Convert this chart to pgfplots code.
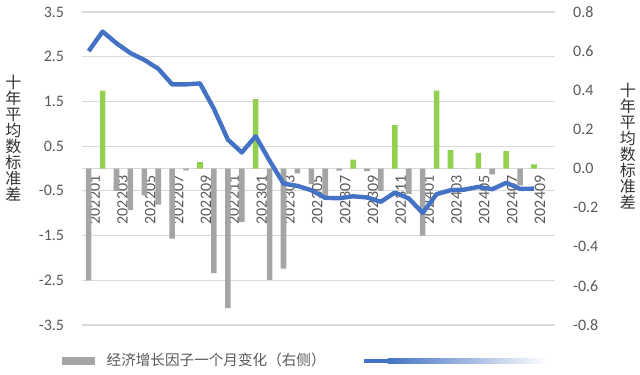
\documentclass[border=0pt]{standalone}
\usepackage{pgfplots}
\pgfplotsset{compat=1.18}
\usepackage{pgfplotstable}
\usepackage{fontspec}
\setmainfont{Carlito}
\newfontfamily\cjk{Noto Sans CJK SC}
\definecolor{tickgray}{HTML}{595959}
\definecolor{bargray}{HTML}{A5A5A5}
\definecolor{bargreen}{HTML}{92D050}
\definecolor{lineblue}{HTML}{4472C4}
\definecolor{gridgray}{HTML}{D9D9D9}

\pgfplotstableread{
x g r
0 -2.50 0
1 0 1.74
2 -0.50 0
3 -0.93 0
4 -0.60 0
5 -0.81 0
6 -1.57 0
7 -0.04 0
8 0 0.14
9 -2.34 0
10 -3.12 0
11 -1.20 0
12 0 1.55
13 -2.49 0
14 -2.24 0
15 -0.11 0
16 -0.35 0
17 -0.62 0
18 -0.05 0
19 0 0.20
20 -0.06 0
21 -0.50 0
22 0 0.97
23 -0.57 0
24 -1.50 0
25 0 1.74
26 0 0.41
27 0 0
28 0 0.35
29 -0.13 0
30 0 0.39
31 -0.38 0
32 0 0.09
}\bars

\pgfplotstableread{
x v
0 0.600
1 0.700
2 0.640
3 0.590
4 0.555
5 0.510
6 0.430
7 0.430
8 0.435
9 0.305
10 0.148
11 0.082
12 0.165
13 0.040
14 -0.077
15 -0.089
16 -0.111
17 -0.150
18 -0.152
19 -0.142
20 -0.148
21 -0.170
22 -0.123
23 -0.153
24 -0.227
25 -0.131
26 -0.111
27 -0.108
28 -0.094
29 -0.106
30 -0.073
31 -0.104
32 -0.103
}\linedata

\begin{document}
\begin{tikzpicture}
\path[use as bounding box] (0,0) rectangle (320pt,187pt);
\begin{axis}[
  at={(40.85pt,24.5pt)}, anchor=south west,
  scale only axis, width=236.6pt, height=156.5pt,
  xmin=-0.5, xmax=33.5, ymin=-3.5, ymax=3.5,
  axis x line*=middle, axis y line*=left,
  x axis line style={draw=gridgray, line width=0.6pt},
  y axis line style={draw=none},
  major tick length=0pt,
  xtick={0,2,...,32},
  xticklabels={202201,202203,202205,202207,202209,202211,202301,202303,202305,202307,202309,202311,202401,202403,202405,202407,202409},
  xticklabel style={rotate=90, anchor=east, yshift=-3pt, font=\fontsize{8}{9}\selectfont, text=tickgray},
  ytick={-3.5,-2.5,-1.5,-0.5,0.5,1.5,2.5,3.5},
  /pgf/number format/assume math mode=true,
  yticklabel style={anchor=east, xshift=-5.3pt, font=\fontsize{8}{9}\selectfont, text=tickgray,
    /pgf/number format/fixed, /pgf/number format/fixed zerofill, /pgf/number format/precision=1},
  ymajorgrids, major grid style={draw=gridgray, line width=0.6pt},
  every axis y label/.style={at={(rel axis cs:-0.1445,0.596)}, anchor=center, align=center,
    font=\cjk\fontsize{8}{8}\selectfont, text=black!80},
  ylabel={十\\年\\平\\均\\数\\标\\准\\差},
]
\addplot[ybar, bar width=2.8pt, bar shift=0pt, fill=bargray, draw=none, forget plot] table[x=x,y=g]{\bars};
\addplot[ybar, bar width=2.8pt, bar shift=0pt, fill=bargreen, draw=none, forget plot] table[x=x,y=r]{\bars};
\end{axis}
\begin{axis}[
  at={(40.85pt,24.5pt)}, anchor=south west,
  scale only axis, width=236.6pt, height=156.5pt,
  xmin=-0.5, xmax=33.5, ymin=-0.8, ymax=0.8,
  axis x line=none, axis y line*=right,
  y axis line style={draw=none},
  major tick length=0pt,
  ytick={-0.8,-0.6,-0.4,-0.2,0,0.2,0.4,0.6,0.8},
  /pgf/number format/assume math mode=true,
  yticklabel style={anchor=west, xshift=5.6pt, font=\fontsize{8}{9}\selectfont, text=tickgray,
    /pgf/number format/fixed, /pgf/number format/fixed zerofill, /pgf/number format/precision=1},
  every axis y label/.style={at={(rel axis cs:1.1543,0.572)}, anchor=center, align=center,
    font=\cjk\fontsize{8}{8}\selectfont, text=black!80},
  ylabel={十\\年\\平\\均\\数\\标\\准\\差},
  legend columns=2,
  legend style={at={(-0.0423,-0.115)}, anchor=west, draw=none, fill=none,
    inner sep=0pt, outer sep=0pt, font=\cjk\fontsize{7.3}{8}\selectfont, text=tickgray,
    nodes={inner sep=0pt},
    /tikz/every odd column/.append style={column sep=5.8pt},
    /tikz/every even column/.append style={column sep=19pt}},
]
\addplot[lineblue, line width=2.2pt, line join=round, forget plot] table[x=x,y=v]{\linedata};
\addlegendimage{legend image code/.code={\fill[bargray, draw=none] (0pt,-2.1pt) rectangle (16.7pt,2.1pt);}}
\addlegendentry{经济增长因子一个月变化（右侧）}
\addlegendimage{line width=0pt, draw=none, legend image code/.code={\fill[lineblue, draw=none] (0pt,-1.1pt) rectangle (12pt,1.1pt); \shade[draw=none, left color=lineblue, right color=white] (12pt,-1.1pt) rectangle (92pt,1.1pt);}}
\addlegendentry{}
\end{axis}
\end{tikzpicture}
\end{document}
